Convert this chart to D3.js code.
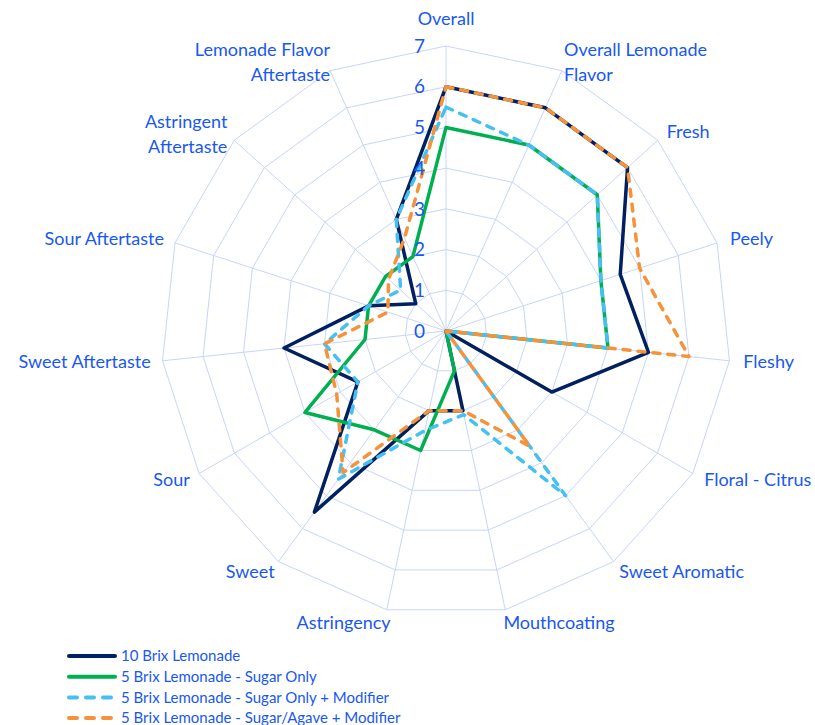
<!DOCTYPE html>
<html>
<head>
<meta charset="utf-8">
<script src="https://cdn.jsdelivr.net/npm/d3@7/dist/d3.min.js"></script>
<style>
  body { margin: 0; background: #fff; }
  text { font-family: Lato, "Open Sans", sans-serif; fill: #1858f2; }
</style>
</head>
<body>
<div id="chart"></div>
<script>
var categories = ["Overall", "Overall Lemonade|Flavor", "Fresh", "Peely", "Fleshy",
  "Floral - Citrus", "Sweet Aromatic", "Mouthcoating", "Astringency", "Sweet", "Sour",
  "Sweet Aftertaste", "Sour Aftertaste", "Astringent|Aftertaste", "Lemonade Flavor|Aftertaste"];

var seriesNames = ["10 Brix Lemonade", "5 Brix Lemonade - Sugar Only",
  "5 Brix Lemonade - Sugar Only + Modifier", "5 Brix Lemonade - Sugar/Agave + Modifier"];

var brix10      = [6.0, 6.0, 6.0, 4.5, 5.0, 3.0, 0.0, 2.0, 2.0, 5.5, 2.5, 4.0, 2.0, 1.0, 3.0];
var sugarOnly   = [5.0, 5.0, 5.0, 4.0, 4.0, 0.0, 0.0, 1.0, 3.0, 3.0, 4.0, 2.0, 2.0, 2.0, 2.0];
var sugarMod    = [5.5, 5.0, 5.0, 4.0, 4.0, 0.0, 5.0, 2.1, 2.5, 4.5, 2.5, 3.0, 2.0, 1.5, 3.0];
var agaveMod    = [6.0, 6.0, 6.0, 5.0, 6.0, 0.0, 3.5, 2.0, 2.0, 4.3, 3.1, 3.0, 1.5, 1.9, 2.5];

var tickValues = [0, 1, 2, 3, 4, 5, 6, 7];

var width = 815, height = 725;
var cx = 446, cy = 331, outer = 285;

var seriesData = [brix10, sugarOnly, sugarMod, agaveMod];
var colors = ["#002060", "#00b050", "#45c0f2", "#f5923a"];
var dashes = [null, null, "7,8", "7,8"];

var svg = d3.select("#chart").append("svg")
  .attr("width", width)
  .attr("height", height);

var r = d3.scaleLinear().domain([0, 7]).range([0, outer]);
var angle = d3.scaleLinear().domain([0, categories.length]).range([0, 2 * Math.PI]);

var g = svg.append("g").attr("transform", "translate(" + cx + "," + cy + ")");

// grid rings
var ring = d3.lineRadial()
  .angle(function(d, i) { return angle(i); })
  .radius(function(d) { return r(d); })
  .curve(d3.curveLinearClosed);

tickValues.forEach(function(t) {
  g.append("path")
    .attr("d", ring(categories.map(function() { return t; })))
    .attr("fill", "none")
    .attr("stroke", "#c6d5f8")
    .attr("stroke-width", 1);
});

// spokes
categories.forEach(function(c, i) {
  var a = angle(i);
  g.append("line")
    .attr("x1", 0).attr("y1", 0)
    .attr("x2", r(7) * Math.sin(a))
    .attr("y2", -r(7) * Math.cos(a))
    .attr("stroke", "#c6d5f8")
    .attr("stroke-width", 1);
});

// series
var line = d3.lineRadial()
  .angle(function(d, i) { return angle(i); })
  .radius(function(d) { return r(d); })
  .curve(d3.curveLinearClosed);

seriesData.forEach(function(s, k) {
  g.append("path")
    .attr("d", line(s))
    .attr("fill", "none")
    .attr("stroke", colors[k])
    .attr("stroke-width", 3.5)
    .attr("stroke-linejoin", "round")
    .attr("stroke-linecap", dashes[k] ? "round" : "butt")
    .attr("stroke-dasharray", dashes[k]);
});

// tick labels
tickValues.forEach(function(t) {
  g.append("text")
    .attr("x", -21)
    .attr("y", -r(t))
    .attr("dy", "0.35em")
    .attr("text-anchor", "end")
    .style("font-size", "19px")
    .text(t);
});

// category labels
var labelR = outer + 20, lineH = 25;
categories.forEach(function(c, i) {
  var a = angle(i);
  var s = Math.sin(a), co = Math.cos(a);
  var px = labelR * s, py = -labelR * co;
  var lines = c.split("|");
  var anchor = "middle";
  if (s > 0.1) { anchor = "start"; px -= 6; }
  else if (s < -0.1) { anchor = "end"; px += 8; }
  var mid = py + 7 * co;
  if (Math.abs(s) < 0.1 && co > 0) mid = py - 7;
  if (lines.length > 1) mid += 3;
  var t = g.append("text")
    .attr("text-anchor", anchor)
    .style("font-size", "18px");
  lines.forEach(function(l, j) {
    t.append("tspan")
      .attr("x", px)
      .attr("y", mid + (j - (lines.length - 1) / 2) * lineH)
      .attr("dy", "0.35em")
      .text(l);
  });
});

// legend
var legend = svg.append("g").attr("transform", "translate(67,656)");
seriesNames.forEach(function(name, k) {
  var row = legend.append("g").attr("transform", "translate(0," + (k * 20.7) + ")");
  row.append("line")
    .attr("x1", 2).attr("x2", 48)
    .attr("y1", 0).attr("y2", 0)
    .attr("stroke", colors[k])
    .attr("stroke-width", 4)
    .attr("stroke-linecap", "round")
    .attr("stroke-dasharray", dashes[k] ? "8,9" : null);
  row.append("text")
    .attr("x", 54)
    .attr("y", 0)
    .attr("dy", "0.35em")
    .style("font-size", "15px")
    .text(name);
});
</script>
</body>
</html>
